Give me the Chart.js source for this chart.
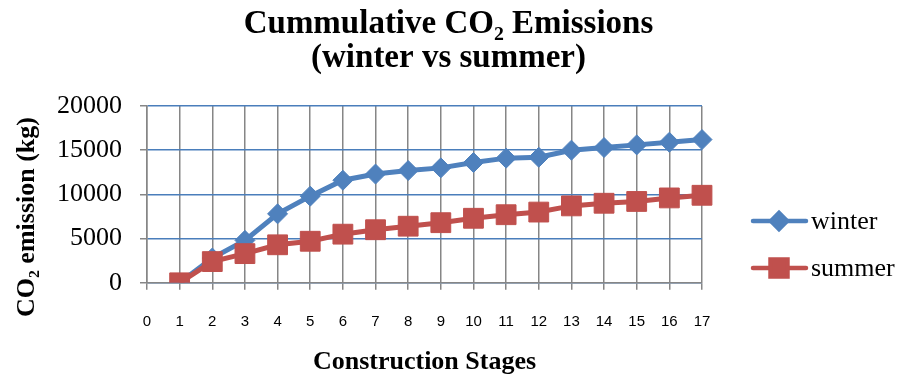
<!DOCTYPE html>
<html>
<head>
<meta charset="utf-8">
<script src="https://cdn.jsdelivr.net/npm/chart.js@4"></script>
<style>
  html, body { margin: 0; padding: 0; background: #fff; }
  #wrap { width: 897px; height: 379px; }
</style>
</head>
<body>
<div id="wrap"><canvas id="chart"></canvas></div>
<script>
const stages = ['0', '1', '2', '3', '4', '5', '6', '7', '8', '9', '10', '11', '12', '13', '14', '15', '16', '17'];
const winter = [null, 0, 2800, 4800, 7800, 9800, 11600, 12300, 12700, 13000, 13600, 14100, 14200, 15000, 15300, 15600, 15900, 16200];
const summer = [null, 0, 2400, 3300, 4300, 4700, 5500, 6000, 6400, 6800, 7300, 7700, 8000, 8700, 9000, 9200, 9600, 9900];
const yTicks = [0, 5000, 10000, 15000, 20000];
const yTitle = 'CO\u2082 emission (kg)';

const serif = "'Liberation Serif', 'Times New Roman', serif";
const grey = '#868686';

// a side box that takes part in the layout but leaves the title spanning the full width
// (left boxes with a higher weight sit further out than the y scale)
function sideBox(position, width, draw) {
  return {
    position: position,
    weight: 10,
    fullSize: false,
    options: {},
    update(maxWidth, maxHeight) {
      this.width = width;
      this.height = maxHeight;
    },
    isHorizontal() { return false; },
    draw: draw
  };
}

const sideBoxes = {
  id: 'sideBoxes',
  beforeInit(chart) {
    // rotated axis title on the left
    Chart.layouts.addBox(chart, sideBox('left', 39, function () {
      const ctx = chart.ctx;
      ctx.save();
      ctx.translate(27, 217);
      ctx.rotate(-Math.PI / 2);
      ctx.fillStyle = '#000';
      ctx.font = 'bold 26px ' + serif;
      ctx.textAlign = 'center';
      ctx.textBaseline = 'middle';
      ctx.fillText(yTitle, 0, 0);
      ctx.restore();
    }));
    // legend on the right: line segment with the series marker, then the name
    Chart.layouts.addBox(chart, sideBox('right', 195, function () {
      const ctx = chart.ctx;
      const rows = [221, 268];
      const marks = [8, 12];
      chart.data.datasets.forEach((ds, i) => {
        const y = rows[i];
        ctx.save();
        ctx.strokeStyle = ds.borderColor;
        ctx.lineWidth = 4.5;
        ctx.lineCap = 'round';
        ctx.beginPath();
        ctx.moveTo(753, y);
        ctx.lineTo(806, y);
        ctx.stroke();
        ctx.fillStyle = ds.backgroundColor;
        Chart.helpers.drawPoint(ctx, {
          pointStyle: ds.pointStyle,
          radius: marks[i],
          borderWidth: 1
        }, 779, y);
        ctx.fillStyle = '#000';
        ctx.font = '26px ' + serif;
        ctx.textBaseline = 'middle';
        ctx.fillText(ds.label, 811, y + 1);
        ctx.restore();
      });
    }));
  }
};

const ctx = document.getElementById('chart').getContext('2d');
new Chart(ctx, {
  type: 'line',
  data: {
    labels: stages,
    datasets: [{
      label: 'winter',
      data: winter,
      order: 1,
      borderColor: '#4F81BD',
      backgroundColor: '#4F81BD',
      borderWidth: 5,
      pointStyle: 'rectRot',
      pointRadius: 10,
      pointHoverRadius: 10,
      pointBorderWidth: 1,
      tension: 0
    }, {
      label: 'summer',
      data: summer,
      order: 0,
      borderColor: '#C0504D',
      backgroundColor: '#C0504D',
      borderWidth: 5,
      pointStyle: 'rect',
      pointRadius: 14,
      pointHoverRadius: 14,
      pointBorderWidth: 1,
      tension: 0
    }]
  },
  options: {
    responsive: true,
    maintainAspectRatio: false,
    animation: false,
    layout: {
      padding: 0
    },
    plugins: {
      legend: { display: false },
      tooltip: { enabled: false },
      title: {
        display: true,
        text: ['Cummulative CO\u2082 Emissions', '(winter vs summer)'],
        color: '#000',
        font: { family: serif, size: 33, weight: 'bold', lineHeight: 1.03 },
        padding: { top: 7, bottom: 31 }
      }
    },
    scales: {
      x: {
        offset: false,
        grid: { color: grey, lineWidth: 1.5, tickLength: 7, tickColor: grey },
        border: { color: grey, width: 1.5 },
        ticks: {
          color: '#000',
          font: { family: "'Liberation Sans', Arial, sans-serif", size: 15 },
          padding: 23,
          maxRotation: 0,
          autoSkip: false
        },
        title: {
          display: true,
          text: 'Construction Stages',
          color: '#000',
          font: { family: serif, size: 26, weight: 'bold', lineHeight: 1.2 },
          padding: { top: -7, bottom: 1 }
        }
      },
      y: {
        min: 0,
        max: 20000,
        afterBuildTicks(scale) {
          scale.ticks = yTicks.map(v => ({ value: v }));
        },
        grid: { color: '#4A7EBB', lineWidth: 1.5, tickLength: 7, tickColor: grey },
        border: { color: grey, width: 1.5 },
        ticks: {
          color: '#000',
          font: { family: serif, size: 26 },
          padding: 18,
          callback: v => String(v)
        }
      }
    }
  },
  plugins: [sideBoxes]
});
</script>
</body>
</html>
